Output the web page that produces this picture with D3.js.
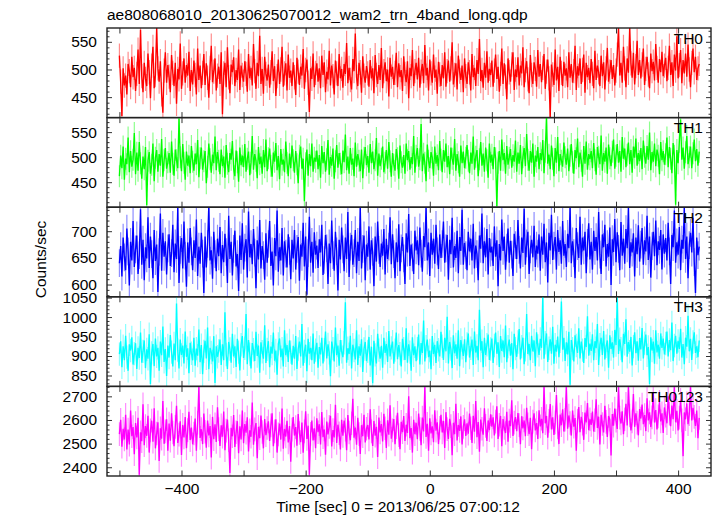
<!DOCTYPE html>
<html><head><meta charset="utf-8">
<script src="https://cdn.jsdelivr.net/npm/d3@7"></script>
<style>body{margin:0;background:#fff}svg{display:block}</style>
</head><body><svg id="c" width="717" height="516"></svg>
<script>
const title = "ae808068010_20130625070012_wam2_trn_4band_long.qdp";
const xLabel = "Time [sec] 0 = 2013/06/25 07:00:12";
const yLabel = "Counts/sec";
const tStart = -500, binSize = 2;
const xTicks = [-500,-400,-300,-200,-100,0,100,200,300,400];
const xTickLabels = [-400,-200,0,200,400];
const bandNames = ["TH0","TH1","TH2","TH3","TH0123"];
const bandColors = ["#ff0000","#00ff00","#0000ff","#00ffff","#ff00ff"];
const yDomains = [[413,575],[400,579],[577,745],[822,1052],[2363,2742]];
const yMajor = [[450,500,550],[450,500,550],[600,650,700],[850,900,950,1000,1050],[2400,2500,2600,2700]];
const yMinorStep = [10,10,10,10,20];
const rateErr = [22,22,26,30,50];

const th0 = [
525,478,416,502,471,489,455,510,497,468,523,486,503,461,492,536,474,572,488,459,
512,483,470,529,495,448,507,541,466,490,575,502,478,515,455,422,498,531,476,508,
487,459,526,494,470,512,438,501,482,547,465,493,520,476,508,489,532,461,499,473,
516,490,455,538,481,507,466,494,528,472,511,485,449,503,543,477,496,520,462,489,
505,474,531,419,493,512,468,540,486,457,509,495,522,470,499,481,536,463,507,490,
478,515,492,460,528,484,503,471,546,497,465,512,488,561,474,501,456,523,492,480,
509,467,495,533,479,506,452,488,518,474,500,541,469,493,511,462,527,485,498,470,
513,486,454,521,496,472,505,489,537,465,499,518,476,423,502,483,529,468,494,511,
478,502,466,525,490,513,459,496,482,534,471,507,488,455,516,493,470,528,484,501,
467,510,492,548,475,503,481,464,519,497,565,486,470,512,495,458,524,489,476,506,
493,469,517,484,502,457,526,490,474,508,481,539,466,497,513,479,500,451,521,487,
505,472,494,530,468,511,486,499,461,524,492,477,515,448,503,488,535,470,497,512,
482,521,467,496,510,475,544,489,503,462,518,493,476,527,485,500,456,514,491,470,
508,484,531,469,497,516,478,502,549,473,490,511,464,525,496,481,507,459,520,488,
474,513,495,462,528,486,503,470,517,492,555,479,499,467,512,485,533,476,501,490,
516,469,498,527,483,505,460,492,538,474,511,487,446,520,495,478,509,531,463,500,
486,522,471,507,493,540,468,499,515,482,457,526,490,474,513,501,469,535,487,510,
477,503,528,465,496,518,484,413,509,491,472,536,480,505,461,523,494,470,514,489,
502,468,531,485,510,476,497,543,463,506,489,520,474,499,527,458,512,486,503,475,
519,492,466,534,481,507,495,470,525,488,513,464,502,539,478,496,517,483,508,471,
498,527,575,489,512,476,541,502,468,520,494,575,511,485,530,473,506,552,490,517,
484,509,538,472,501,523,491,466,529,497,514,480,546,503,476,519,495,532,488,507,
521,479,503,543,490,513,470,527,498,560,484,508,535,475,517,493,529,487,545,500,
468,512,538,495,523,481,502,510];

const th1 = [
462,503,478,521,455,497,486,539,470,512,481,495,548,466,509,473,530,488,457,501,
476,520,404,493,510,467,485,527,452,499,514,471,506,483,536,461,494,518,477,490,
508,469,531,487,463,515,494,478,577,500,472,526,489,455,511,483,503,468,522,491,
473,507,486,534,460,498,519,475,492,512,448,481,527,496,469,505,488,541,474,510,
493,466,515,482,501,459,524,487,470,508,495,532,477,462,513,490,451,519,484,503,
480,526,471,497,511,464,489,542,475,506,493,458,520,486,501,467,514,480,535,472,
498,517,483,461,509,491,528,474,502,456,516,485,495,470,531,489,462,507,478,523,
494,469,512,486,448,503,521,477,497,412,488,515,463,506,482,527,471,499,491,513,
476,504,459,522,488,510,471,496,534,465,500,483,517,457,492,524,479,508,487,466,
513,490,545,474,501,467,518,485,497,462,529,481,506,493,472,515,458,499,520,484,
502,469,526,488,511,476,494,538,463,507,482,497,521,470,489,514,477,530,492,461,
508,485,473,516,498,457,523,490,479,504,467,527,494,512,475,500,486,542,469,503,
518,481,496,566,472,507,489,452,525,493,478,510,499,463,521,487,504,474,532,495,
470,514,491,527,480,502,466,519,497,485,536,473,506,490,461,523,488,511,478,499,
524,493,468,509,487,541,475,501,514,462,496,530,483,507,471,519,494,459,527,489,
505,476,520,498,402,489,512,473,535,494,508,467,522,485,499,516,479,504,491,533,
471,509,487,524,466,500,518,482,546,495,473,512,489,527,461,503,491,520,476,508,
494,534,468,511,580,487,505,476,523,497,462,518,489,540,472,506,493,481,529,500,
485,517,472,503,526,490,467,514,498,537,480,509,493,461,522,487,531,475,506,496,
512,478,528,494,465,520,501,486,543,473,508,491,519,467,525,498,482,511,535,477,
503,526,489,512,471,540,497,517,480,505,529,486,514,469,521,499,537,483,508,492,
518,476,533,501,487,522,495,549,474,510,491,527,482,515,503,466,530,494,512,485,
506,539,480,520,497,468,528,503,405,514,488,531,575,495,519,477,510,542,486,500,
521,478,508,535,492,516,483,511];

const th2 = [
640,672,615,688,651,627,705,662,598,680,645,719,633,666,692,620,655,741,637,684,
608,670,649,726,631,690,657,612,702,644,675,586,661,733,626,697,652,681,619,668,
694,635,659,712,623,677,648,745,603,665,687,630,718,654,596,679,641,706,662,627,
683,650,722,616,671,639,697,658,584,690,632,676,748,645,664,611,699,657,625,686,
653,708,621,674,642,695,661,603,729,648,680,617,667,701,634,657,588,692,646,715,
628,669,685,613,737,651,676,638,704,660,593,683,647,721,630,672,655,609,696,641,
676,719,635,662,598,687,653,739,624,670,645,706,617,681,658,632,694,663,610,684,
649,702,628,667,689,607,675,652,716,634,690,581,659,727,641,680,622,698,656,673,
631,685,660,712,618,646,693,668,601,677,640,720,655,626,699,662,589,684,647,707,
666,625,688,648,736,614,671,693,637,659,702,621,680,644,745,630,667,692,608,675,
652,709,628,683,661,597,690,643,718,665,633,677,654,704,619,686,648,671,726,638,
694,657,612,679,642,713,625,668,689,649,601,696,660,732,635,675,651,620,701,664,
683,636,707,658,624,691,670,745,645,679,616,697,656,686,639,712,662,629,694,650,
676,718,641,668,693,609,684,657,725,632,672,650,701,621,689,663,740,637,678,655,
627,699,662,686,645,714,630,673,657,608,692,667,733,640,681,651,704,619,687,660,
671,635,709,652,683,597,676,645,722,663,690,628,669,705,641,682,656,616,695,674,
648,721,665,630,688,659,742,637,677,699,620,666,684,651,710,633,673,658,694,626,
690,656,714,642,679,604,697,664,731,646,673,689,628,702,661,683,639,719,654,676,
633,695,668,745,640,681,659,612,706,672,650,727,637,688,664,699,621,678,715,647,
680,628,701,663,689,645,736,656,620,694,670,712,634,676,652,707,599,685,661,723,
642,698,667,627,717,654,686,639,704,668,745,631,679,660,696,615,688,657,711,643,
675,706,637,683,662,729,646,690,613,672,699,653,720,636,681,665,702,628,694,658,
687,645,716,662,601,693,670,739,641,679,656,708,627,684,667,745,648,690,612,674,
697,660,725,642,584,688,655,671];

const th3 = [
905,938,871,925,889,952,897,862,930,914,948,878,906,933,867,921,895,960,883,912,
940,869,917,893,956,828,908,931,874,945,899,921,862,937,902,976,885,918,849,927,
896,954,910,873,932,889,1035,915,868,942,903,927,881,963,898,920,856,934,907,889,
947,875,919,901,968,884,928,853,912,939,894,973,866,921,909,886,951,831,925,898,
913,942,877,930,889,1012,904,867,936,918,883,957,899,925,872,944,910,863,929,951,
895,920,1008,879,941,905,868,933,916,887,962,900,927,857,935,911,893,979,882,917,
938,871,924,906,960,888,914,852,931,945,897,919,873,966,902,928,885,940,910,878,
926,893,951,867,918,937,899,982,875,912,929,861,944,906,921,889,958,880,915,934,
870,923,904,947,881,916,963,894,930,908,848,937,919,886,973,902,927,875,941,911,
897,934,1038,883,920,905,952,868,929,914,891,966,877,925,901,943,859,918,936,887,
912,949,876,924,830,939,903,881,957,915,893,926,870,947,908,931,885,964,899,921,
937,880,915,960,892,928,906,873,944,919,890,971,883,930,910,862,948,902,925,887,
919,955,878,933,908,991,886,924,942,897,914,866,951,905,929,882,938,916,899,962,
925,890,947,912,1001,881,936,918,869,953,907,930,893,966,874,941,921,900,943,884,
931,958,896,920,942,877,963,909,926,889,1019,914,938,871,947,903,929,955,890,918,
945,882,927,960,906,935,872,951,913,940,897,978,884,924,942,901,933,866,957,919,
898,936,969,891,924,947,879,916,1008,905,931,889,952,912,940,874,961,926,903,944,
921,1055,893,934,958,885,920,943,906,975,880,929,911,950,897,938,1040,916,947,887,
935,904,962,826,941,919,886,953,927,908,971,894,937,915,882,946,923,1002,901,932,
913,956,889,938,920,982,877,929,947,903,964,891,925,940,870,953,918,935,896,967,
928,1053,905,943,919,884,957,931,994,898,936,911,949,876,924,961,907,938,888,946,
917,972,894,933,955,902,923,828,948,914,937,880,966,909,929,893,958,921,945,904,
932,963,899,941,915,986,887,927,952,906,939,918,970,896,931,879,947,924,1003,912,
944,890,936,961,908,925,897,940];

const th0123 = [
2540,2601,2487,2563,2518,2622,2475,2559,2496,2640,2531,2570,2455,2587,2526,2609,2368,2548,2510,2666,
2493,2574,2533,2618,2462,2556,2597,2508,2649,2480,2543,2590,2427,2565,2521,2680,2499,2552,2603,2470,
2585,2512,2628,2547,2489,2571,2660,2503,2538,2594,2452,2579,2526,2612,2481,2557,2635,2515,2568,2497,
2543,2606,2470,2589,2742,2524,2561,2498,2627,2550,2483,2598,2535,2574,2441,2613,2519,2582,2507,2654,
2561,2490,2577,2529,2636,2472,2555,2602,2514,2376,2567,2531,2621,2486,2548,2595,2459,2573,2518,2640,
2502,2583,2546,2611,2467,2556,2529,2674,2495,2560,2587,2438,2571,2523,2619,2549,2480,2604,2536,2566,
2594,2511,2577,2628,2489,2552,2603,2462,2539,2585,2517,2648,2478,2562,2530,2597,2505,2574,2423,2559,
2612,2534,2570,2491,2625,2545,2506,2589,2461,2552,2637,2520,2576,2368,2541,2598,2513,2565,2481,2607,
2548,2582,2496,2634,2527,2560,2453,2593,2539,2571,2618,2488,2557,2526,2664,2503,2580,2544,2475,2601,
2533,2597,2559,2472,2621,2547,2514,2586,2690,2525,2568,2495,2609,2540,2456,2578,2531,2622,2505,2563,
2579,2518,2645,2552,2490,2596,2534,2571,2443,2610,2547,2583,2509,2626,2565,2482,2599,2538,2662,2521,
2556,2604,2497,2569,2630,2536,2476,2592,2548,2617,2511,2580,2545,2700,2523,2566,2462,2601,2540,2588,
2519,2627,2562,2493,2610,2551,2742,2528,2584,2470,2607,2543,2573,2506,2641,2555,2590,2498,2567,2622,
2547,2596,2482,2633,2561,2520,2605,2574,2451,2588,2540,2669,2513,2579,2554,2615,2496,2571,2603,2532,
2586,2542,2627,2565,2503,2618,2550,2680,2527,2591,2466,2602,2563,2538,2649,2575,2511,2598,2557,2624,
2572,2611,2535,2593,2658,2520,2580,2617,2489,2604,2566,2545,2635,2508,2597,2574,2683,2532,2589,2612,
2553,2629,2578,2497,2616,2564,2598,2531,2652,2582,2540,2609,2476,2593,2628,2556,2587,2520,2641,2573,
2605,2544,2742,2586,2617,2525,2596,2667,2560,2611,2537,2590,2705,2569,2498,2623,2578,2645,2551,2601,
2742,2563,2619,2587,2534,2640,2572,2608,2470,2597,2655,2548,2613,2584,2516,2631,2590,2672,2557,2603,
2579,2636,2551,2599,2688,2566,2614,2496,2622,2583,2547,2660,2592,2528,2617,2601,2450,2625,2576,2648,
2597,2562,2742,2610,2585,2637,2540,2603,2668,2577,2742,2619,2556,2594,2710,2571,2628,2589,2535,2646,
2606,2665,2582,2621,2553,2692,2598,2632,2570,2611,2718,2589,2642,2560,2615,2677,2594,2628,2545,2653,
2618,2586,2700,2627,2574,2661,2603,2742,2590,2639,2556,2610,2685,2598,2447,2632,2603,2670,2582,2624,
2742,2598,2651,2613,2575,2640,2523,2609];

const seriesList = [th0, th1, th2, th3, th0123];

// ---- layout ----
const plotL = 107, plotR = 711, plotT = 28, panelH = 89.6;
const fontFamily = 'Arial, "Liberation Sans", Helvetica, sans-serif';
const fs = "15.5px";
const svg = d3.select("#c");
const txt = sel => sel.style("font-family", fontFamily).style("font-size", fs).attr("fill", "#000");

const x = d3.scaleLinear().domain([-520, 453]).range([plotL, plotR]);
const defs = svg.append("defs");
const fmt = d3.format("d");

seriesList.forEach((vals, i) => {
  const top = plotT + i * panelH, bot = top + panelH;
  const y = d3.scaleLinear().domain(yDomains[i]).range([bot, top]);
  const pts = vals.map((v, k) => ({t: tStart + k * binSize, v}));
  const err = rateErr[i];

  defs.append("clipPath").attr("id", "clip" + i)
    .append("rect").attr("x", plotL).attr("y", top).attr("width", plotR - plotL).attr("height", panelH);

  const g = svg.append("g").attr("clip-path", `url(#clip${i})`);
  const eb = pts.map(d => `M${x(d.t).toFixed(2)},${y(d.v - err).toFixed(2)}V${y(d.v + err).toFixed(2)}`).join("");
  g.append("path").attr("d", eb).attr("stroke", bandColors[i]).attr("stroke-opacity", 0.45)
    .attr("stroke-width", 1.2).attr("fill", "none");
  g.append("path").datum(pts)
    .attr("d", d3.line().x(d => x(d.t)).y(d => y(d.v)))
    .attr("stroke", bandColors[i]).attr("stroke-width", 1.35).attr("fill", "none");

  const [lo, hi] = yDomains[i];
  const step = yMinorStep[i];
  const minor = d3.range(Math.ceil(lo / step) * step, hi + 0.001, step).filter(v => !yMajor[i].includes(v));

  const axL = svg.append("g").attr("transform", `translate(${plotL},0)`)
    .call(d3.axisLeft(y).tickValues(yMajor[i]).tickSize(-5).tickPadding(10).tickFormat(fmt));
  svg.append("g").attr("transform", `translate(${plotL},0)`)
    .call(d3.axisLeft(y).tickValues(minor).tickSize(-2.5).tickFormat(""));
  svg.append("g").attr("transform", `translate(${plotR},0)`)
    .call(d3.axisRight(y).tickValues(yMajor[i]).tickSize(-5).tickFormat(""));
  svg.append("g").attr("transform", `translate(${plotR},0)`)
    .call(d3.axisRight(y).tickValues(minor).tickSize(-2.5).tickFormat(""));
  axL.selectAll("text").call(txt);

  svg.append("g").attr("transform", `translate(0,${top})`)
    .call(d3.axisTop(x).tickValues(xTicks).tickSize(-5.5).tickFormat(""));
  const axB = svg.append("g").attr("transform", `translate(0,${bot})`)
    .call(d3.axisBottom(x).tickValues(xTicks).tickSize(-5.5).tickPadding(7)
      .tickFormat(d => (i === 4 && xTickLabels.includes(d)) ? d3.format("")(d) : ""));
  axB.selectAll("text").call(txt);

  svg.append("rect").attr("x", plotL).attr("y", top).attr("width", plotR - plotL).attr("height", panelH)
    .attr("fill", "none").attr("stroke", "#222").attr("stroke-width", 1.4);

  svg.append("text").attr("x", 703).attr("y", top + 15.5).attr("text-anchor", "end")
    .call(txt).text(bandNames[i]);
});

svg.selectAll(".domain").remove();
svg.selectAll(".tick line").attr("stroke", "#333").attr("stroke-width", 1);

svg.append("text").attr("x", plotL).attr("y", 19.5).call(txt).text(title);
svg.append("text").attr("transform", "translate(46,259.5) rotate(-90)").attr("text-anchor", "middle")
  .call(txt).text(yLabel);
svg.append("text").attr("x", 398).attr("y", 512).attr("text-anchor", "middle")
  .call(txt).text(xLabel);
</script></body></html>
